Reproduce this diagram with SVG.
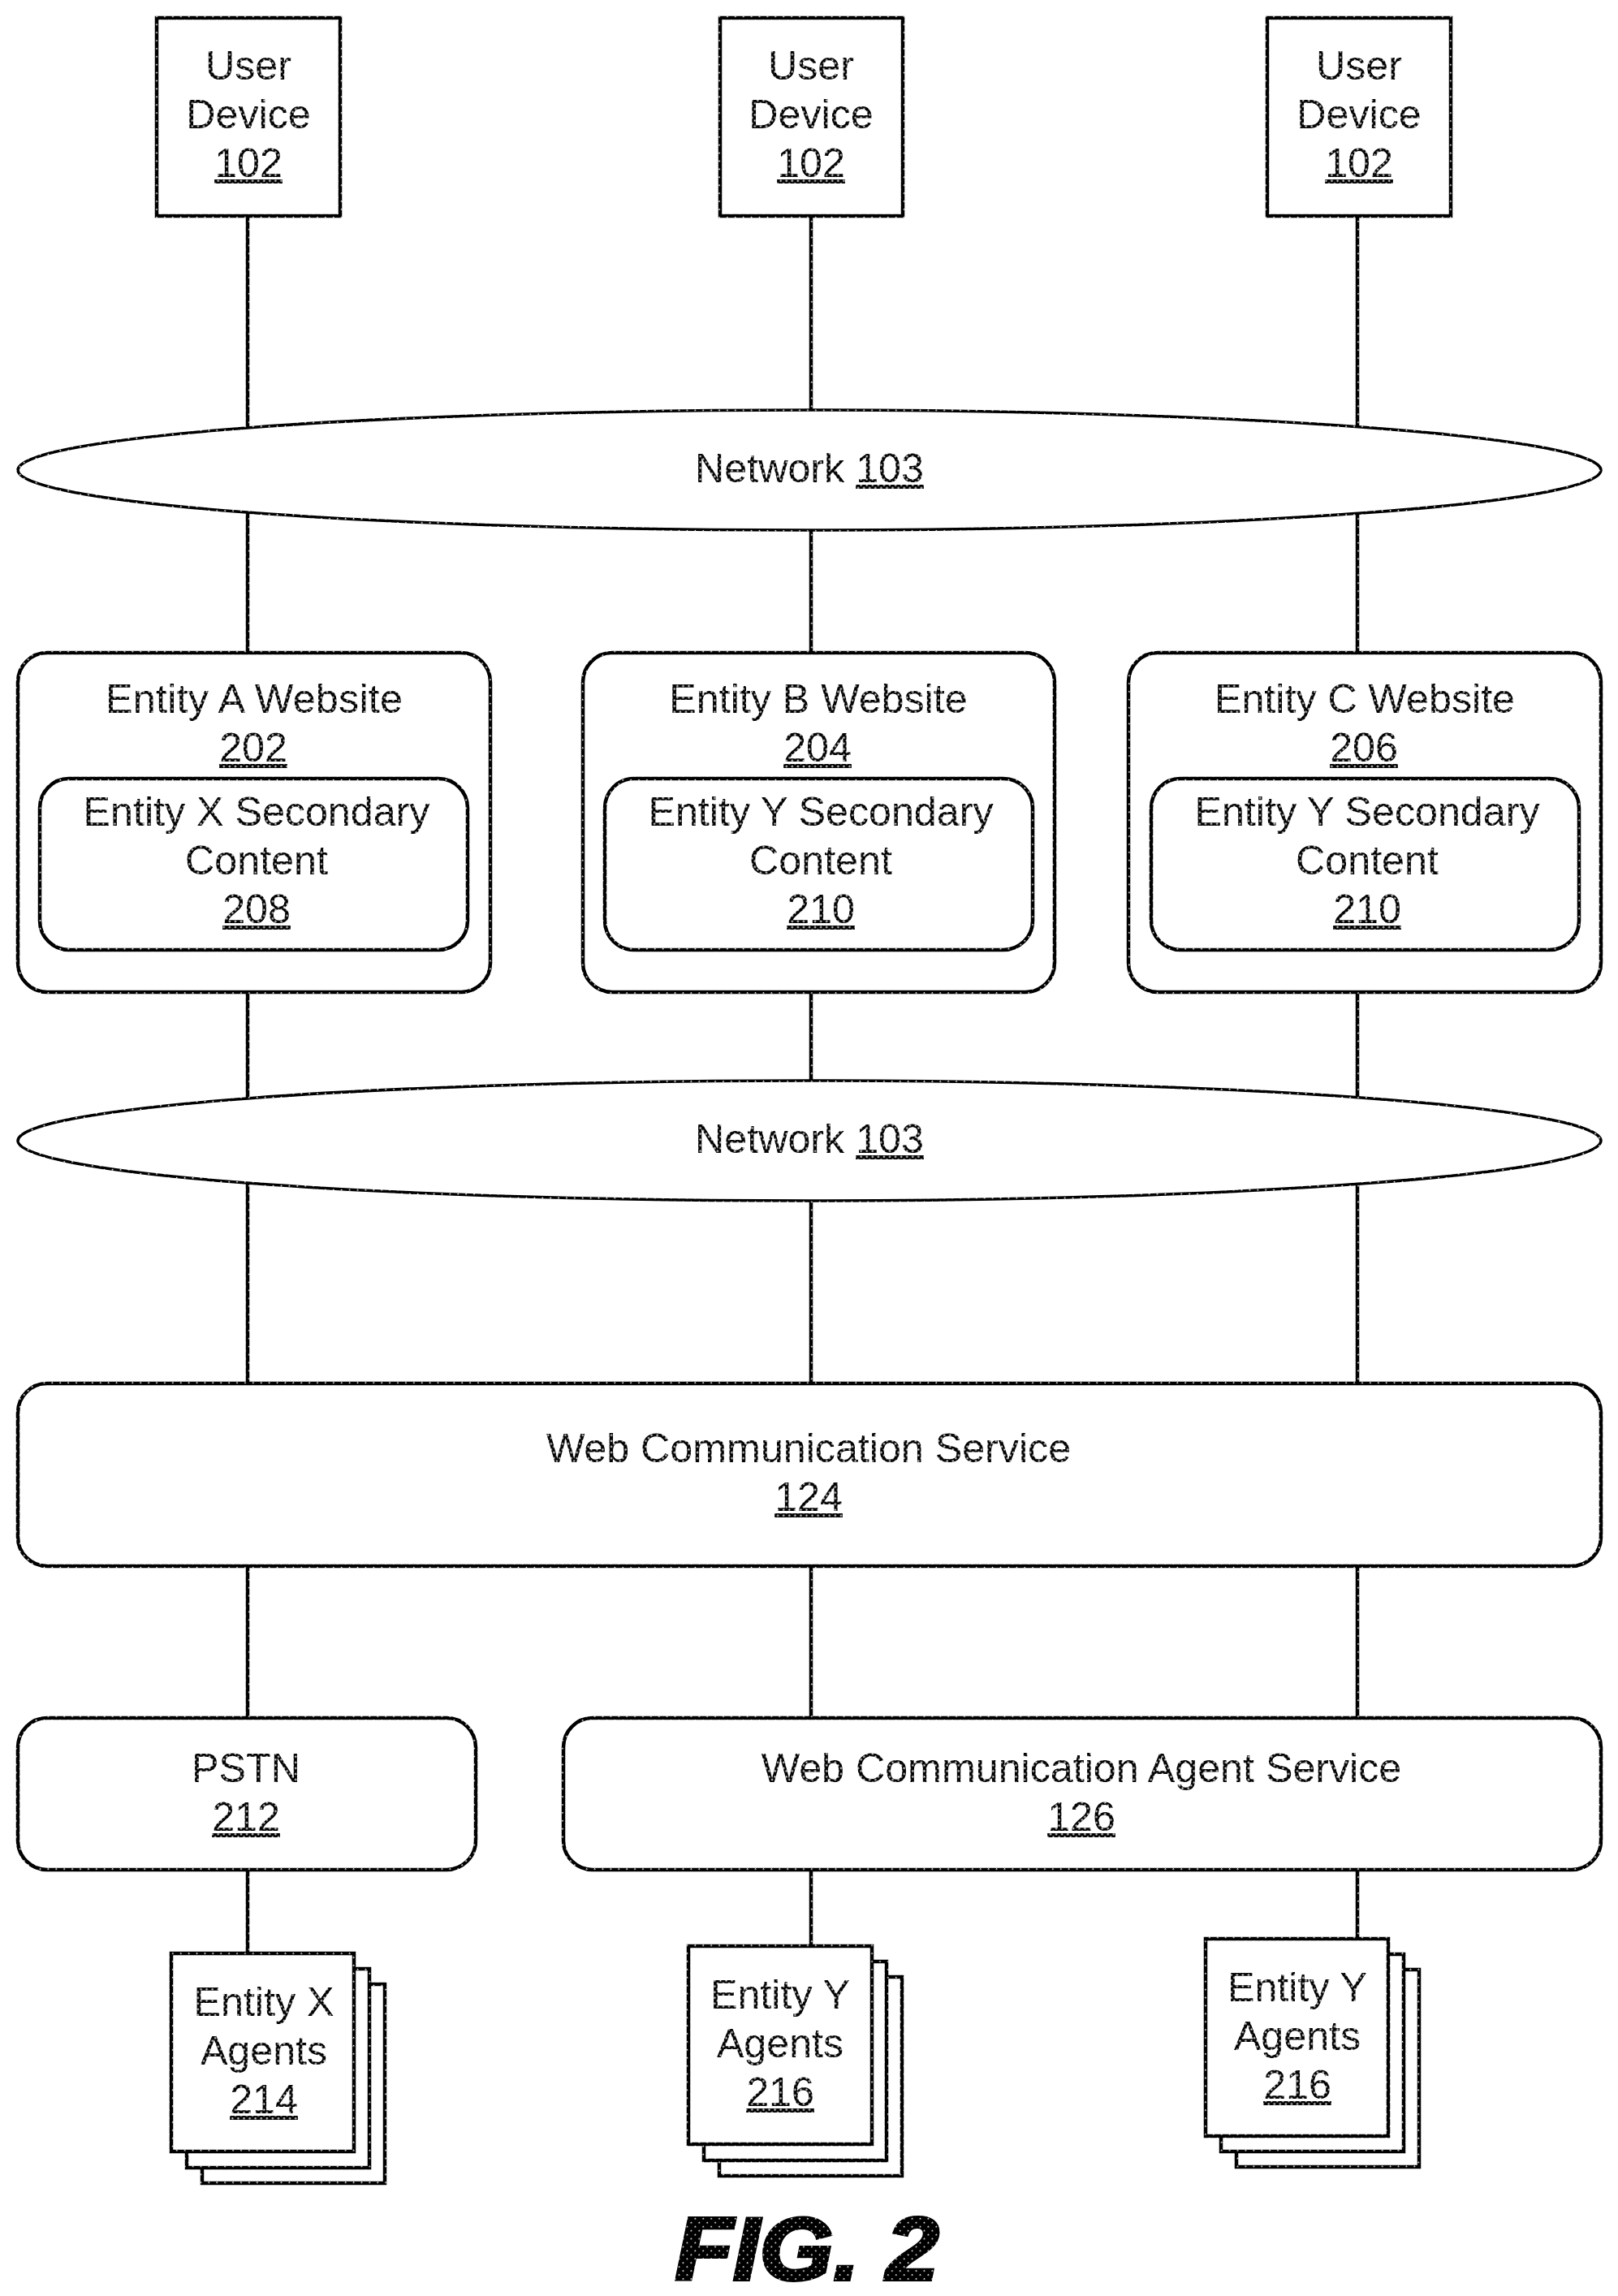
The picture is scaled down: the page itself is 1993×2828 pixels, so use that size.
<svg xmlns="http://www.w3.org/2000/svg" width="1993" height="2828" viewBox="0 0 1993 2828">
<defs>
<pattern id="ht" width="7" height="7" patternUnits="userSpaceOnUse" patternTransform="rotate(45)">
<rect width="7" height="7" fill="#000"/>
<rect x="3" y="3" width="1.6" height="1.6" fill="#fff"/>
</pattern>
<pattern id="tx" width="5" height="5" patternUnits="userSpaceOnUse" patternTransform="rotate(45)">
<rect width="5" height="5" fill="#000"/>
<rect x="1.5" y="1.5" width="2" height="2" fill="#fff"/>
</pattern>
</defs>
<style>
.b{fill:#fff;stroke:url(#ht);stroke-width:4.5}
.e{fill:#fff;stroke:url(#ht);stroke-width:3.5}
.c{stroke:url(#ht);stroke-width:4.5;fill:none}
text{font-family:"Liberation Sans",Arial,sans-serif;font-size:50.2px;fill:url(#tx);text-anchor:middle}
.u{text-decoration:underline}
.fig{font-size:110px;font-weight:bold;font-style:italic;fill:url(#ht);stroke:url(#ht);stroke-width:4}
</style>
<rect width="1993" height="2828" fill="#fff"/>
<g id="connectors">
<path class="c" d="M305 267V527M999 267V505M1672 267V526"/>
<path class="c" d="M305 631V803M999 653V803M1672 632V803"/>
<path class="c" d="M305 1222V1353M999 1222V1331M1672 1222V1353"/>
<path class="c" d="M305 1457V1704M999 1479V1704M1672 1457V1704"/>
<path class="c" d="M305 1929V2116M999 1929V2116M1672 1929V2116"/>
<path class="c" d="M305 2303V2406M999 2303V2397M1672 2303V2388"/>
</g>
<g id="device1"><rect class="b" x="193" y="22" width="226" height="244"/><text x="306" y="98">User</text><text x="306" y="158">Device</text><text x="306" y="218" class="u">102</text></g>
<g id="device2"><rect class="b" x="887" y="22" width="225" height="244"/><text x="999" y="98">User</text><text x="999" y="158">Device</text><text x="999" y="218" class="u">102</text></g>
<g id="device3"><rect class="b" x="1561" y="22" width="226" height="244"/><text x="1674" y="98">User</text><text x="1674" y="158">Device</text><text x="1674" y="218" class="u">102</text></g>
<g id="network1"><ellipse class="e" cx="997" cy="579" rx="975" ry="74"/><text x="997" y="594">Network <tspan class="u">103</tspan></text></g>
<g id="entityA"><rect class="b" x="22" y="804" width="582" height="418" rx="36"/><text x="313" y="878" textLength="366">Entity A Website</text><text x="312" y="938" class="u">202</text>
<rect class="b" x="49" y="959" width="527" height="211" rx="36"/><text x="316" y="1017">Entity X Secondary</text><text x="316" y="1077">Content</text><text x="316" y="1137" class="u">208</text></g>
<g id="entityB"><rect class="b" x="718" y="804" width="581" height="418" rx="36"/><text x="1008" y="878">Entity B Website</text><text x="1007" y="938" class="u">204</text>
<rect class="b" x="745" y="959" width="527" height="211" rx="36"/><text x="1011" y="1017">Entity Y Secondary</text><text x="1011" y="1077">Content</text><text x="1011" y="1137" class="u">210</text></g>
<g id="entityC"><rect class="b" x="1390" y="804" width="582" height="418" rx="36"/><text x="1681" y="878">Entity C Website</text><text x="1680" y="938" class="u">206</text>
<rect class="b" x="1418" y="959" width="527" height="211" rx="36"/><text x="1684" y="1017">Entity Y Secondary</text><text x="1684" y="1077">Content</text><text x="1684" y="1137" class="u">210</text></g>
<g id="network2"><ellipse class="e" cx="997" cy="1405" rx="975" ry="74"/><text x="997" y="1420">Network <tspan class="u">103</tspan></text></g>
<g id="webcomm"><rect class="b" x="22" y="1704" width="1950" height="225" rx="36"/><text x="996" y="1801">Web Communication Service</text><text x="996" y="1861" class="u">124</text></g>
<g id="pstn"><rect class="b" x="22" y="2116" width="564" height="187" rx="36"/><text x="303" y="2195">PSTN</text><text x="303" y="2255" class="u">212</text></g>
<g id="agentservice"><rect class="b" x="694" y="2116" width="1278" height="187" rx="36"/><text x="1332" y="2195">Web Communication Agent Service</text><text x="1332" y="2255" class="u">126</text></g>
<g id="agentsX"><rect class="b" x="249" y="2444" width="225" height="245"/><rect class="b" x="230" y="2425" width="225" height="245"/><rect class="b" x="211" y="2406" width="225" height="244"/><text x="325" y="2483">Entity X</text><text x="325" y="2543">Agents</text><text x="325" y="2603" class="u">214</text></g>
<g id="agentsY1"><rect class="b" x="886" y="2435" width="225" height="245"/><rect class="b" x="867" y="2416" width="225" height="245"/><rect class="b" x="848" y="2397" width="226" height="244"/><text x="961" y="2474">Entity Y</text><text x="961" y="2534">Agents</text><text x="961" y="2594" class="u">216</text></g>
<g id="agentsY2"><rect class="b" x="1523" y="2426" width="225" height="243"/><rect class="b" x="1504" y="2407" width="225" height="243"/><rect class="b" x="1485" y="2388" width="225" height="243"/><text x="1598" y="2465">Entity Y</text><text x="1598" y="2525">Agents</text><text x="1598" y="2585" class="u">216</text></g>
<text class="fig" x="994" y="2808" textLength="325" lengthAdjust="spacingAndGlyphs">FIG. 2</text>
</svg>
